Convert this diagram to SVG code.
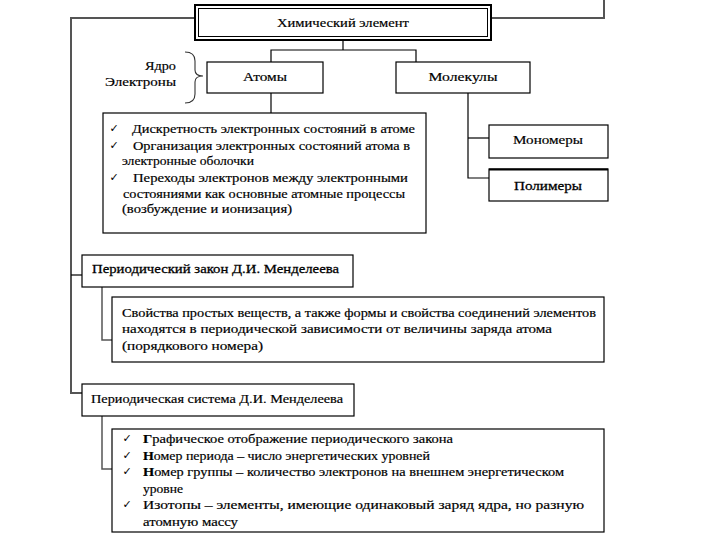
<svg xmlns="http://www.w3.org/2000/svg" width="720" height="540" viewBox="0 0 720 540">
<style>
  .box { fill: #ffffff; stroke: #000000; stroke-width: 1.2; }
  text { font-family: "Liberation Serif", "DejaVu Serif", "Times New Roman", serif; }
  .t { font-size: 13.5px; fill: #000000; stroke: #000000; stroke-width: 0.2; }
  .c { text-anchor: middle; }
  .e { text-anchor: end; }
  .chk { font-family: "DejaVu Sans", sans-serif; font-size: 11px; fill: #000000; text-anchor: middle; }
  .ln { fill: none; stroke: #000000; stroke-width: 1.2; }
  .trunk { fill: none; stroke: #555555; stroke-width: 2; }
</style>
<rect x="0" y="0" width="720" height="540" fill="#ffffff"/>

<g id="connectors">
  <polyline class="trunk" points="195,18 71,18 71,393 82,393"/>
  <line class="ln" x1="71" y1="275" x2="82" y2="275"/>
  <polyline class="trunk" points="491,18 604,18 604,0"/>
  <polyline class="ln" points="343,40 343,50"/>
  <polyline class="ln" points="271,62 271,50 416,50 416,62"/>
  <line class="ln" x1="271" y1="93" x2="271" y2="113"/>
  <polyline class="ln" points="468,93 468,178 489,178"/>
  <line class="ln" x1="468" y1="138" x2="489" y2="138"/>
  <polyline class="trunk" style="stroke-width:1.5" points="102,287 102,340 112,340"/>
  <polyline class="trunk" style="stroke-width:1.5" points="102,416 102,469 112,469"/>
  <path class="ln" style="stroke:#333;stroke-width:1.1" d="M185,52 Q195,52 195,61 L195,70 Q195,76 203,76 Q195,76 195,82 L195,94 Q195,103 185,103"/>
</g>

<g id="chem-element">
  <rect x="195" y="5" width="296" height="35" fill="#fff" stroke="#000" stroke-width="2"/>
  <rect x="198.5" y="8.5" width="289" height="28" fill="none" stroke="#000" stroke-width="1"/>
  <text class="t c" x="343" y="27" font-size="14" textLength="132" lengthAdjust="spacingAndGlyphs">Химический элемент</text>
</g>

<g id="nucleus-electrons">
  <text class="t e" x="176" y="70" textLength="31" lengthAdjust="spacingAndGlyphs">Ядро</text>
  <text class="t e" x="176" y="86" textLength="71" lengthAdjust="spacingAndGlyphs">Электроны</text>
</g>

<g id="atoms">
  <rect class="box" x="207" y="62" width="116" height="31"/>
  <text class="t c" x="265" y="81" textLength="44" lengthAdjust="spacingAndGlyphs">Атомы</text>
</g>

<g id="molecules">
  <rect class="box" x="396" y="62" width="134" height="31"/>
  <text class="t c" x="463" y="81" textLength="69" lengthAdjust="spacingAndGlyphs">Молекулы</text>
</g>

<g id="monomers">
  <rect class="box" x="489" y="125" width="119" height="33"/>
  <text class="t c" x="548" y="144" textLength="70" lengthAdjust="spacingAndGlyphs">Мономеры</text>
</g>

<g id="polymers">
  <rect class="box" x="489" y="169" width="119" height="32"/>
  <line x1="489" y1="169.5" x2="608" y2="169.5" stroke="#000" stroke-width="2"/>
  <text class="t c" x="548" y="190" textLength="68" lengthAdjust="spacingAndGlyphs" style="stroke-width:0.28">Полимеры</text>
</g>

<g id="atoms-list">
  <rect class="box" x="103" y="113" width="323" height="120"/>
  <text class="chk" x="114" y="132">✓</text>
  <text class="t" x="132" y="133" textLength="283" lengthAdjust="spacingAndGlyphs">Дискретность электронных состояний в атоме</text>
  <text class="chk" x="114" y="148.5">✓</text>
  <text class="t" x="133" y="149.5" textLength="277" lengthAdjust="spacingAndGlyphs">Организация электронных состояний атома в</text>
  <text class="t" x="122" y="165" textLength="132" lengthAdjust="spacingAndGlyphs">электронные оболочки</text>
  <text class="chk" x="114" y="180.5">✓</text>
  <text class="t" x="133" y="181.5" textLength="275" lengthAdjust="spacingAndGlyphs">Переходы электронов между электронными</text>
  <text class="t" x="123" y="197.5" textLength="282" lengthAdjust="spacingAndGlyphs">состояниями как основные атомные процессы</text>
  <text class="t" x="122" y="213" textLength="170" lengthAdjust="spacingAndGlyphs">(возбуждение и ионизация)</text>
</g>

<g id="periodic-law">
  <rect class="box" x="82" y="255" width="271" height="32"/>
  <text class="t" x="92" y="273" textLength="247" lengthAdjust="spacingAndGlyphs" style="stroke-width:0.28">Периодический закон Д.И. Менделеева</text>
</g>

<g id="law-content">
  <rect class="box" x="112" y="297" width="492" height="65"/>
  <text class="t" x="122" y="316.5" textLength="474" lengthAdjust="spacingAndGlyphs">Свойства простых веществ, а также формы и свойства соединений элементов</text>
  <text class="t" x="122" y="333" textLength="430" lengthAdjust="spacingAndGlyphs">находятся в периодической зависимости от величины заряда атома</text>
  <text class="t" x="122" y="349.5" textLength="141" lengthAdjust="spacingAndGlyphs">(порядкового номера)</text>
</g>

<g id="periodic-system">
  <rect class="box" x="82" y="384" width="272" height="32"/>
  <text class="t" x="91" y="402.5" textLength="252" lengthAdjust="spacingAndGlyphs">Периодическая система Д.И. Менделеева</text>
</g>

<g id="system-content">
  <rect class="box" x="112" y="429" width="492" height="103"/>
  <text class="chk" x="127" y="442">✓</text>
  <text class="t" x="143" y="443" textLength="310" lengthAdjust="spacingAndGlyphs"><tspan font-weight="bold">Г</tspan>рафическое отображение периодического закона</text>
  <text class="chk" x="127" y="458.5">✓</text>
  <text class="t" x="143" y="459.5" textLength="287" lengthAdjust="spacingAndGlyphs"><tspan font-weight="bold">Н</tspan>омер периода – число энергетических уровней</text>
  <text class="chk" x="127" y="475">✓</text>
  <text class="t" x="143" y="476" textLength="421" lengthAdjust="spacingAndGlyphs"><tspan font-weight="bold">Н</tspan>омер группы – количество электронов на внешнем энергетическом</text>
  <text class="t" x="143" y="492.5" textLength="40" lengthAdjust="spacingAndGlyphs">уровне</text>
  <text class="chk" x="127" y="508">✓</text>
  <text class="t" x="143" y="509" textLength="441" lengthAdjust="spacingAndGlyphs">Изотопы – элементы, имеющие одинаковый заряд ядра, но разную</text>
  <text class="t" x="143" y="525.5" textLength="95" lengthAdjust="spacingAndGlyphs">атомную массу</text>
</g>
</svg>
